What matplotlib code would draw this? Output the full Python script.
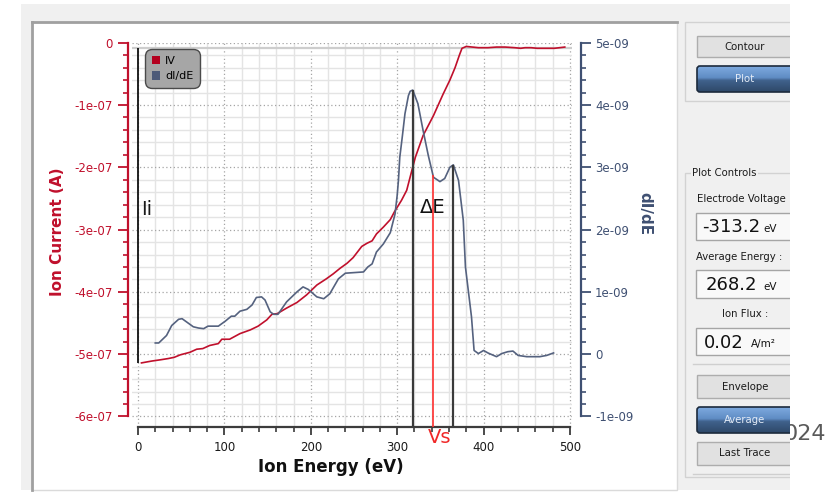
import numpy as np
import matplotlib
matplotlib.use('Agg')
import matplotlib.pyplot as plt
from matplotlib.patches import Rectangle, FancyBboxPatch, Patch
from matplotlib.colors import LinearSegmentedColormap
from matplotlib.ticker import MultipleLocator

# ---------------- data ----------------
iv_energy = [4, 16, 26, 35, 42, 49, 60, 68, 75, 83, 93, 97, 106, 118, 130, 139, 149, 155,
             161, 172, 184, 195, 207, 218, 226, 234, 242, 249, 259, 265, 271, 276, 284,
             292, 297, 305, 311, 317, 321, 330, 342, 353, 361, 367, 372, 375, 380, 394,
             405, 415, 425, 436, 443, 448, 455, 462, 472, 482, 494]
iv_current_e7 = [-5.14, -5.11, -5.09, -5.07, -5.05, -5.01, -4.97, -4.92, -4.91, -4.86, -4.83,
                 -4.76, -4.76, -4.67, -4.61, -4.55, -4.45, -4.36, -4.35, -4.26, -4.17, -4.05,
                 -3.89, -3.79, -3.71, -3.62, -3.54, -3.45, -3.27, -3.22, -3.18, -3.07, -2.96,
                 -2.84, -2.71, -2.53, -2.37, -2.05, -1.84, -1.49, -1.17, -0.83, -0.60, -0.40,
                 -0.20, -0.09, -0.06, -0.08, -0.08, -0.07, -0.07, -0.08, -0.09, -0.08, -0.08,
                 -0.09, -0.09, -0.09, -0.07]

didE_energy = [20, 24, 33, 39, 47, 51, 56, 64, 70, 76, 81, 93, 101, 108, 112, 118, 126, 132,
               137, 143, 147, 153, 157, 162, 168, 172, 184, 191, 197, 207, 215, 222, 232, 240,
               261, 266, 271, 276, 284, 292, 297.5, 300, 301.5, 303, 306, 309, 313, 315, 318,
               324, 330, 336, 342, 349.5, 355, 361, 365, 371, 376.5, 379, 386, 389, 394, 400,
               405, 415, 421, 428, 434, 440, 450, 465, 473, 481]
didE_e9 = [0.18, 0.18, 0.30, 0.46, 0.56, 0.57, 0.52, 0.44, 0.42, 0.41, 0.45, 0.45, 0.53, 0.61,
           0.61, 0.69, 0.72, 0.79, 0.91, 0.92, 0.87, 0.68, 0.64, 0.64, 0.76, 0.84, 1.00, 1.08,
           1.04, 0.92, 0.89, 0.97, 1.21, 1.30, 1.32, 1.40, 1.45, 1.64, 1.77, 1.95, 2.25, 2.55,
           2.80, 3.16, 3.50, 3.86, 4.15, 4.22, 4.24, 4.02, 3.59, 3.19, 2.84, 2.77, 2.82, 3.00,
           3.04, 2.79, 2.15, 1.40, 0.60, 0.06, 0.01, 0.06, 0.02, -0.04, 0.01, 0.04, 0.05,
           -0.02, -0.04, -0.04, -0.02, 0.02]

x_tick_values = [0, 100, 200, 300, 400, 500]
left_tick_values = [0, -1e-7, -2e-7, -3e-7, -4e-7, -5e-7, -6e-7]
left_tick_labels = ['0', '-1e-07', '-2e-07', '-3e-07', '-4e-07', '-5e-07', '-6e-07']
right_tick_values = [5e-9, 4e-9, 3e-9, 2e-9, 1e-9, 0, -1e-9]
right_tick_labels = ['5e-09', '4e-09', '3e-09', '2e-09', '1e-09', '0', '-1e-09']

iv_E = np.array(iv_energy, float)
iv_I = np.array(iv_current_e7) * 1e-7
d_E = np.array(didE_energy, float)
d_D = np.array(didE_e9) * 1e-9

# ---------------- styling ----------------
CRIMSON = '#c0102c'
SLATE = '#55627f'
AXSLATE = '#3f5072'
W, H = 833, 493
UIFONT = ['DejaVu Sans']

fig = plt.figure(figsize=(W / 100, H / 100), dpi=100)
fig.patch.set_facecolor('white')


def frac(x0, y0, x1, y1):
    return [x0 / W, 1 - y1 / H, (x1 - x0) / W, (y1 - y0) / H]


# ---------------- UI background ----------------
ui = fig.add_axes([0, 0, 1, 1], zorder=0)
ui.set_xlim(0, W)
ui.set_ylim(H, 0)
ui.axis('off')
ui.add_patch(Rectangle((21, 4), 790 - 21, 490 - 4, fc='#f0f0f0', ec='none'))
ui.add_patch(Rectangle((32, 22), 677 - 32, 490 - 22, fc='white', ec='#dadada', lw=1))
ui.plot([32, 32], [22, 490], color='#a0a0a0', lw=2)
ui.plot([32, 677], [22, 22], color='#a0a0a0', lw=2)

# group boxes
ui.add_patch(Rectangle((685, 22), 120, 79, fc='none', ec='#d2d2d2', lw=1))
ui.add_patch(Rectangle((685, 173), 120, 304, fc='none', ec='#d2d2d2', lw=1))
ui.text(692, 173, 'Plot Controls', fontsize=7.3, family=UIFONT, color='#1a1a1a',
        ha='left', va='center', bbox=dict(fc='#f0f0f0', ec='none', pad=1))

blue_cmap = LinearSegmentedColormap.from_list(
    'btn', [(0, '#7eaadf'), (0.45, '#5f8cc4'), (0.55, '#40628c'), (1, '#2e4869')])


def button(x0, y0, x1, y1, label, blue=False):
    if blue:
        grad = np.linspace(0, 1, 60).reshape(-1, 1)
        im = ui.imshow(grad, extent=(x0, x1, y1, y0), cmap=blue_cmap, aspect='auto',
                       zorder=2, interpolation='bilinear')
        p = FancyBboxPatch((x0, y0), x1 - x0, y1 - y0,
                           boxstyle='round,pad=0,rounding_size=3',
                           fc='none', ec='#1c2a3c', lw=1.2, zorder=3)
        ui.add_patch(p)
        im.set_clip_path(p)
        tc = '#e4ecf7'
    else:
        ui.add_patch(Rectangle((x0, y0), x1 - x0, y1 - y0, fc='#e1e1e1', ec='#adadad',
                               lw=1, zorder=2))
        tc = '#1a1a1a'
    ui.text(745, (y0 + y1) / 2, label, fontsize=7.3, family=UIFONT, color=tc,
            ha='center', va='center', zorder=4)


button(697, 36, 800, 57, 'Contour')
button(697, 66, 800, 92, 'Plot', blue=True)
button(697, 375, 800, 398, 'Envelope')
button(697, 407, 800, 433, 'Average', blue=True)
button(697, 442, 800, 465, 'Last Trace')


def value_box(y0, y1, value, unit, vx, ux):
    ui.add_patch(Rectangle((696, y0), 110, y1 - y0, fc='#f9f9f9', ec='#a5a5a5', lw=1))
    ym = (y0 + y1) / 2
    ui.text(vx, ym + 1, value, fontsize=13, family=UIFONT, color='#111111',
            ha='left', va='center')
    ui.text(ux, ym + 3, unit, fontsize=7.5, family=UIFONT, color='#111111',
            ha='left', va='center')


ui.text(697, 199, 'Electrode Voltage', fontsize=7.3, family=UIFONT, color='#1a1a1a',
        ha='left', va='center')
value_box(213, 240, '-313.2', 'eV', 702, 763)
ui.text(696, 257, 'Average Energy :', fontsize=7.3, family=UIFONT, color='#1a1a1a',
        ha='left', va='center')
value_box(270, 298, '268.2', 'eV', 706, 763)
ui.text(745, 314, 'Ion Flux :', fontsize=7.3, family=UIFONT, color='#1a1a1a',
        ha='center', va='center')
value_box(328, 355, '0.02', 'A/m²', 704, 751)
ui.plot([693, 800], [363.5, 363.5], color='#cfcfcf', lw=1)
ui.plot([693, 800], [474, 474], color='#cfcfcf', lw=1)
ui.set_xlim(0, W)
ui.set_ylim(H, 0)

# right white strip with partially hidden text
ui2 = fig.add_axes(frac(790, 0, 833, 493), zorder=5)
ui2.set_xlim(790, 833)
ui2.set_ylim(493, 0)
ui2.axis('off')
ui2.add_patch(Rectangle((790, 0), 43, 493, fc='white', ec='none'))
ui2.text(826, 434, '024', fontsize=16, family=UIFONT, color='#5a5a5a',
         ha='right', va='center', clip_on=True)

# ---------------- chart ----------------
ax = fig.add_axes(frac(131.7, 42.7, 571.7, 426.7), zorder=1)
ax.set_facecolor('white')
ax2 = ax.twinx()
ax2.set_zorder(2)

ax.set_axisbelow(True)
ax.xaxis.set_minor_locator(MultipleLocator(20))
ax.yaxis.set_minor_locator(MultipleLocator(2e-8))
ax2.yaxis.set_minor_locator(MultipleLocator(2e-10))
ax.set_xticks(x_tick_values)
ax.set_xticklabels([str(v) for v in x_tick_values])
ax.set_yticks(left_tick_values)
ax.set_yticklabels(left_tick_labels)
ax2.set_yticks(right_tick_values)
ax2.set_yticklabels(right_tick_labels)
ax.set_xlim(-7.3, 502)
ax.set_ylim(-6.164e-7, 0.0)
ax2.set_ylim(-1.164e-9, 5e-9)

ax.grid(True, which='minor', color='#e4e4e4', ls='-', lw=1.0)
ax.grid(True, which='major', color='#a5a5a5', ls=(0, (1, 2)), lw=0.9)

for s in ['top', 'right']:
    ax.spines[s].set_visible(False)
for s in ['top', 'left', 'bottom']:
    ax2.spines[s].set_visible(False)
ax.spines['bottom'].set_bounds(0, 500)
ax.spines['bottom'].set_color('#3c3c3c')
ax.spines['bottom'].set_linewidth(1.6)
ax.spines['left'].set_bounds(-6e-7, 0)
ax.spines['left'].set_position(('outward', 2.7))
ax.spines['left'].set_color(CRIMSON)
ax.spines['left'].set_linewidth(1.6)
ax2.spines['right'].set_bounds(-1e-9, 5e-9)
ax2.spines['right'].set_position(('outward', 6.7))
ax2.spines['right'].set_color(AXSLATE)
ax2.spines['right'].set_linewidth(1.6)

ax.tick_params(axis='x', which='major', length=6, width=1.3, color='#3c3c3c',
               labelcolor='#1a1a1a', labelsize=8.5, pad=4)
ax.tick_params(axis='x', which='minor', length=3.5, width=1.2, color='#3c3c3c')
ax.tick_params(axis='y', which='major', length=7, width=1.3, colors=CRIMSON,
               labelsize=8.5, pad=4)
ax.tick_params(axis='y', which='minor', length=3.8, width=1.2, color=CRIMSON)
ax2.tick_params(axis='y', which='major', length=7, width=1.3, colors=AXSLATE,
                labelsize=8.5, pad=3)
ax2.tick_params(axis='y', which='minor', length=3.8, width=1.2, color=AXSLATE)

# curves
plateau = float(np.mean(iv_I[iv_E > 390]))
ax.axhline(plateau, color='#cdcdcd', lw=1.6, zorder=1.5)
ax.plot(iv_E, iv_I, color=CRIMSON, lw=1.2, zorder=3)
ax2.plot(d_E, d_D, color=SLATE, lw=1.2, zorder=3)

# markers derived from the data
ax.vlines(0, iv_I.min(), plateau, color='#111111', lw=1.3, zorder=3)
i1 = int(np.argmax(d_D))
mask = d_E > 340
i2 = int(np.argmax(np.where(mask, d_D, -np.inf)))
peaks_E = [d_E[i1], d_E[i2]]
peaks_D = [d_D[i1], d_D[i2]]
ybot = ax2.get_ylim()[0]
ax2.vlines(peaks_E, ybot, peaks_D, color='#3a3a3a', lw=1.6, zorder=4)
vs_E = (peaks_E[0] + peaks_E[1]) / 2
vs_D = float(np.interp(vs_E, d_E, d_D))
ax2.vlines(vs_E, ybot, vs_D, color='#ff3030', lw=1.2, zorder=4)

ax.text(10.5, -2.67e-7, 'Ii', fontsize=14, color='#1a1a1a', ha='center', va='center')
ax.text(341, -2.64e-7, 'ΔE', fontsize=14, color='#111111', ha='center', va='center',
        zorder=5)
ax.text(349, -6.33e-7, 'Vs', fontsize=14, color='#f02828', ha='center', va='center',
        clip_on=False)

# labels
ax.set_xlabel('Ion Energy (eV)', fontsize=12, fontweight='bold', color='#111111')
ax.xaxis.label.set_va('center')
ax.xaxis.set_label_coords(0.452, -0.105)
ax.set_ylabel('Ion Current (A)', fontsize=11, fontweight='bold', color=CRIMSON)
ax.yaxis.label.set_va('center')
ax.yaxis.set_label_coords(-0.1675, 0.507)
ax2.set_ylabel('dI/dE', fontsize=11, fontweight='bold', color=AXSLATE)
ax2.yaxis.label.set(rotation=-90, va='center', ha='center', rotation_mode='anchor')
ax2.yaxis.set_label_coords(1.1666, 0.556)

# legend
handles = [Patch(fc='#b4001e', ec='none', label='IV'),
           Patch(fc='#4d5a78', ec='none', label='dI/dE')]
leg = ax2.legend(handles=handles, loc='upper left', bbox_to_anchor=(0.030, 0.983),
                 bbox_transform=ax2.transAxes, frameon=True, fancybox=True,
                 facecolor='#a6a6a6', edgecolor='#4a4a4a', framealpha=1, fontsize=8,
                 handlelength=0.8, handleheight=0.8, handletextpad=0.4, borderpad=0.6,
                 labelspacing=0.45, borderaxespad=0)
leg.get_frame().set_linewidth(1.0)
leg.get_frame().set_boxstyle('round,pad=0,rounding_size=0.6')
leg.set_zorder(10)

fig.savefig('out.png', dpi=100)
